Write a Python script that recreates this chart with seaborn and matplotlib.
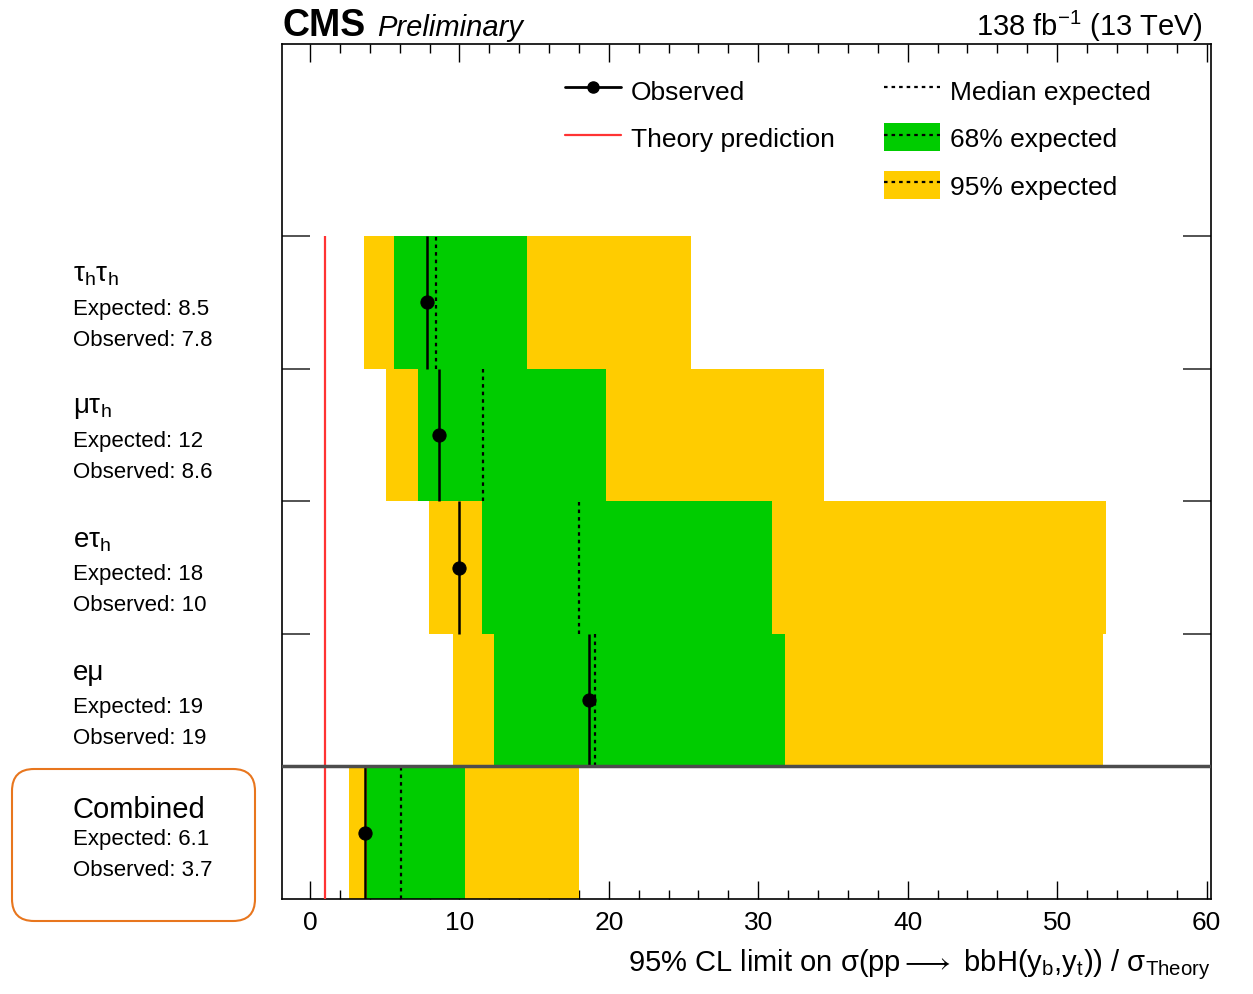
import numpy as np
import pandas as pd
import matplotlib
matplotlib.use("Agg")
import matplotlib.pyplot as plt
import seaborn as sns
from matplotlib.lines import Line2D
from matplotlib.patches import Patch, FancyBboxPatch
from matplotlib.ticker import MultipleLocator
from matplotlib.transforms import IdentityTransform

# ---------------- data ----------------
channels = ["τ$_{\\rm h}$τ$_{\\rm h}$", "μτ$_{\\rm h}$", "eτ$_{\\rm h}$", "eμ", "Combined"]
expected_text = ["8.5", "12", "18", "19", "6.1"]
observed_text = ["7.8", "8.6", "10", "19", "3.7"]
observed = [7.8, 8.6, 10.0, 18.7, 3.7]
median = [8.45, 11.6, 18.0, 19.05, 6.1]
lo95 = [3.6, 5.1, 7.95, 9.55, 2.6]
lo68 = [5.6, 7.25, 11.5, 12.3, 3.8]
hi68 = [14.55, 19.8, 30.9, 31.8, 10.4]
hi95 = [25.5, 34.4, 53.3, 53.1, 18.0]
theory = 1.0
row_pos = [4.5, 3.5, 2.5, 1.5, 0.5]

df = pd.DataFrame({"channel": channels, "observed": observed, "median": median,
                   "lo95": lo95, "lo68": lo68, "hi68": hi68, "hi95": hi95, "y": row_pos})

GREEN = "#00CC00"
YELLOW = "#FFCC00"
RED = "#FF3333"

sns.set_theme(style="ticks")
plt.rcParams["font.family"] = ["Liberation Sans", "DejaVu Sans"]
plt.rcParams["mathtext.fontset"] = "custom"
plt.rcParams["mathtext.rm"] = "Liberation Sans"
plt.rcParams["mathtext.it"] = "Liberation Sans:italic"
plt.rcParams["mathtext.bf"] = "Liberation Sans:bold"
plt.rcParams["mathtext.fallback"] = "stix"
for k in ["text.color", "axes.labelcolor", "xtick.color", "ytick.color", "axes.edgecolor"]:
    plt.rcParams[k] = "black"

W, H = 1253, 995
fig = plt.figure(figsize=(W / 100, H / 100), dpi=100)
ax = fig.add_axes([282 / W, 1 - 900 / H, (1211 - 282) / W, (900 - 45) / H])

# bands
ax.barh(df["y"], df["hi95"] - df["lo95"], left=df["lo95"], height=1.0, color=YELLOW, lw=0, zorder=1)
ax.barh(df["y"], df["hi68"] - df["lo68"], left=df["lo68"], height=1.0, color=GREEN, lw=0, zorder=2)

# median expected
ax.vlines(df["median"], df["y"] - 0.5, df["y"] + 0.5, colors="black",
          linestyles=(0, (1.6, 1.8)), lw=1.6, zorder=3)
# observed
ax.vlines(df["observed"], df["y"] - 0.5, df["y"] + 0.5, colors="black", lw=1.8, zorder=4)
sns.scatterplot(data=df, x="observed", y="y", color="black", s=90, edgecolor="black",
                ax=ax, zorder=5, legend=False)
# theory
ax.vlines(theory, 0, 5, colors=RED, lw=1.6, zorder=4)
# separator
ax.axhline(1, color="#4d4d4d", lw=2.5, zorder=6)

ax.set_xlim(-1.875, 60.3)
ax.set_ylim(0, 6.448)

ax.xaxis.set_major_locator(MultipleLocator(10))
ax.xaxis.set_minor_locator(MultipleLocator(2))
ax.tick_params(axis="x", which="both", direction="in", top=True, bottom=True,
               labelsize=19, pad=8, colors="black")
ax.tick_params(axis="x", which="major", length=13, width=1.0)
ax.tick_params(axis="x", which="minor", length=6.5, width=1.0)
ax.set_yticks([1, 2, 3, 4, 5])
ax.set_yticklabels([])
ax.tick_params(axis="y", which="major", direction="in", left=True, right=True,
               length=20, width=1.3, color="#444444")
ax.tick_params(axis="y", which="minor", left=False, right=False)
for sp in ax.spines.values():
    sp.set_visible(True)
    sp.set_linewidth(1.2)
    sp.set_color("black")

ax.set_ylabel("")
ax.set_xlabel("95% CL limit on σ(pp$\\longrightarrow$ bbH(y$_{\\rm b}$,y$_{\\rm t}$)) / σ$_{\\rm Theory}$",
              loc="right", fontsize=21, labelpad=9, color="black")

# legend
obs_h = Line2D([], [], color="black", lw=2, marker="o", ms=8)
th_h = Line2D([], [], color=RED, lw=1.6)
blank = Line2D([], [], alpha=0)
med_h = Line2D([], [], color="black", ls=(0, (1.6, 1.8)), lw=1.6)
g_h = (Patch(facecolor=GREEN, lw=0), Line2D([], [], color="black", ls=(0, (1.6, 1.8)), lw=1.6))
y_h = (Patch(facecolor=YELLOW, lw=0), Line2D([], [], color="black", ls=(0, (1.6, 1.8)), lw=1.6))
leg = ax.legend(handles=[obs_h, th_h, blank, med_h, g_h, y_h],
                labels=["Observed", "Theory prediction", "", "Median expected", "68% expected", "95% expected"],
                ncol=2, fontsize=19, frameon=False, handlelength=2.12, handleheight=1.25,
                handletextpad=0.38, labelspacing=0.74, columnspacing=1.85, borderpad=0,
                borderaxespad=0, loc="upper left", bbox_to_anchor=(565 / W, 1 - 77 / H),
                bbox_transform=fig.transFigure)
for t in leg.get_texts():
    t.set_color("black")

# left labels
for i in range(len(channels)):
    yc = row_pos[i]
    is_comb = channels[i] == "Combined"
    ax.annotate(channels[i], xy=(73 / W, yc), xycoords=("figure fraction", "data"),
                xytext=(0, 24 if is_comb else 28), textcoords="offset pixels",
                ha="left", va="center", fontsize=21 if is_comb else 20, annotation_clip=False)
    ax.annotate("Expected: " + expected_text[i], xy=(73 / W, yc), xycoords=("figure fraction", "data"),
                xytext=(0, -6), textcoords="offset pixels", ha="left", va="center",
                fontsize=16, annotation_clip=False)
    ax.annotate("Observed: " + observed_text[i], xy=(73 / W, yc), xycoords=("figure fraction", "data"),
                xytext=(0, -37), textcoords="offset pixels", ha="left", va="center",
                fontsize=16, annotation_clip=False)

box = FancyBboxPatch((12, 73), 243, 152, boxstyle="round,pad=0,rounding_size=22",
                     transform=IdentityTransform(), fill=False, ec="#E8761E", lw=1.5)
fig.add_artist(box)

# header
fig.text(283 / W, 1 - 36 / H, "CMS", fontweight="bold", fontsize=27, va="baseline", ha="left")
fig.text(377 / W, 1 - 36 / H, "Preliminary", style="italic", fontsize=21, va="baseline", ha="left")
fig.text(1203 / W, 1 - 36 / H, "138 fb$^{-1}$ (13 TeV)", fontsize=21, va="baseline", ha="right")

fig.savefig("out.png", dpi=100)
